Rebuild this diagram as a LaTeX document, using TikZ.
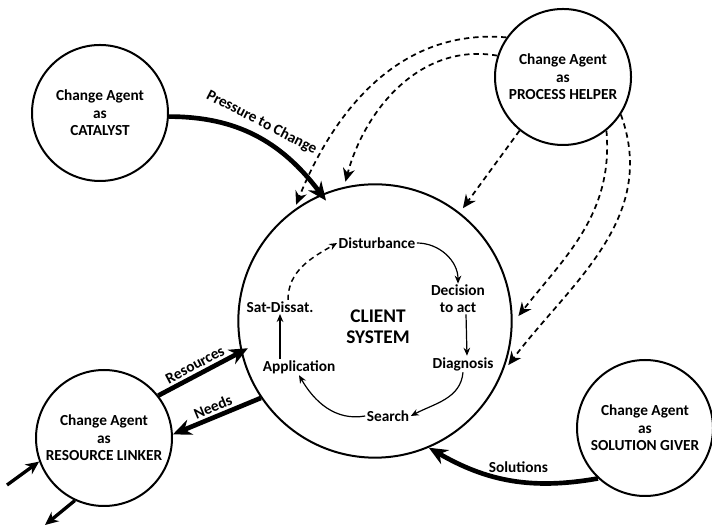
\documentclass[tikz,border=0pt]{standalone}
\usepackage{fontspec}
\setmainfont{Carlito}
\usepackage{tikz}
\usetikzlibrary{positioning,arrows.meta}

\begin{document}
\begin{tikzpicture}[
  x=0.75pt, y=0.75pt,
  agent/.style={circle, draw=black, line width=1.5pt, minimum size=102pt, inner sep=0pt,
                font=\fontsize{11.5}{13}\selectfont\bfseries, align=center},
  client/.style={circle, draw=black, line width=1.5pt, minimum size=205pt, inner sep=0pt},
  stage/.style={font=\fontsize{11.5}{12.5}\selectfont\bfseries, align=center, inner sep=1pt},
  tag/.style={font=\fontsize{11.5}{12.5}\selectfont\bfseries, inner sep=2pt},
  flow/.style={-{Stealth[length=14pt, width=12pt]}, line width=3.5pt},
  link/.style={-{Stealth[length=10pt, width=9pt]}, line width=2.5pt},
  hint/.style={-{Stealth[length=10pt, width=9pt]}, line width=1.3pt, dash pattern=on 4pt off 3pt,
               shorten >=4pt},
  cycle/.style={-{Stealth[length=6pt, width=5pt]}, line width=0.9pt}
]
\useasboundingbox (0,0) rectangle (712,530);

% Client system
\node[client] (client) at (375,209) {};
\node[font=\fontsize{14.5}{15.5}\selectfont\bfseries, align=center] (cs) at (378,203) {CLIENT\\SYSTEM};

% Change agents
\node[agent] (catalyst) at (100,417) {Change Agent\\as\\CATALYST};
\node[agent] (helper) at (563,453) {Change Agent\\as\\PROCESS HELPER};
\node[agent] (linker) at (104,92) {Change Agent\\as\\RESOURCE LINKER};
\node[agent] (giver) at (645,102) {Change Agent\\as\\SOLUTION GIVER};

% Problem solving cycle
\node[stage] (dist) at (377,287) {Disturbance};
\node[stage] (decide) at (458,231) {Decision\\to act};
\node[stage] (diag) at (463,166) {Diagnosis};
\node[stage] (search) at (388,114) {Search};
\node[stage] (apply) at (299,163) {Application};
\node[stage] (satis) at (280,223) {Sat-Dissat.};

\draw[cycle] (dist.east) to[out=0, in=90] (decide.north);
\draw[cycle] ([xshift=6pt]decide.south) -- ([xshift=3pt]diag.north);
\draw[cycle] (diag.south) to[out=-95, in=28] (search.east);
\draw[cycle] (search.west) to[out=190, in=-60] (apply.south);
\draw[cycle] (apply.north -| satis.south) -- (satis.south);
\draw[cycle, line width=1.1pt, dash pattern=on 4pt off 3pt] ([xshift=6pt]satis.north) to[out=90, in=210] (dist.west);

% Catalyst
\draw[flow, shorten >=-6pt] (catalyst.-3) to[out=0, in=127]
  node[tag, sloped, above=2pt, pos=0.5] {Pressure to Change} (client.113);

% Process helper
\draw[hint] (helper.145) to[out=175, in=68] (client.126);
\draw[hint] (helper.162) to[out=170, in=75] (client.103);
\draw[hint] (helper.231) -- (client.52);
\draw[hint, shorten >=7pt] (helper.-51) to[out=-85, in=52] (client.-1);
\draw[hint, shorten >=7pt] (helper.-33) to[out=-70, in=53] (client.-22);

% Resource linker
\draw[flow, shorten >=-6pt] (linker.38) -- node[tag, sloped, above] {Resources} (client.193);
\draw[flow] (client.214) -- node[tag, sloped, above] {Needs} (linker.3);
\coordinate (lin) at (7,45);
\coordinate (lout) at (45,5);
\draw[link] (lin) -- (linker.200);
\draw[link] (linker.245) -- (lout);

% Solution giver
\draw[flow] (giver.227) to[out=190, in=-30]
  node[tag, above=3pt, pos=0.45] {Solutions} (client.-67);

\end{tikzpicture}
\end{document}
